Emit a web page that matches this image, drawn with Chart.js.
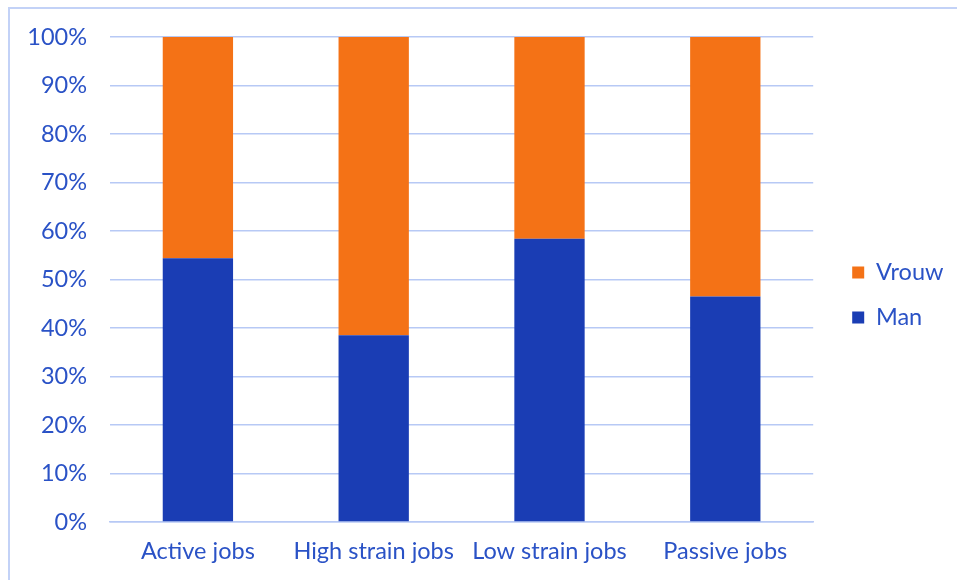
<!DOCTYPE html>
<html>
<head>
<meta charset="utf-8">
<script src="https://cdn.jsdelivr.net/npm/chart.js@4/dist/chart.umd.min.js"></script>
<style>
  html, body { margin: 0; padding: 0; background: #fff; overflow: hidden; }
  #frame {
    position: absolute; left: 8px; top: 7px; width: 1000px; height: 700px;
    border-left: 2px solid #c3d2f7; border-top: 2px solid #c3d2f7;
  }
  #wrap { position: absolute; left: 0; top: 0; width: 957px; height: 580px; }
</style>
</head>
<body>
<div id="frame"></div>
<div id="wrap"><canvas id="myChart"></canvas></div>
<script>
const labels = ['Active jobs', 'High strain jobs', 'Low strain jobs', 'Passive jobs']
const manValues = [54.4, 38.5, 58.4, 46.5]
const vrouwValues = [45.6, 61.5, 41.6, 53.5]

const textColor = '#2a52c6'
const gridColor = '#b7c9f5'
const font = { family: 'Lato', size: 23.5 }

Chart.defaults.font.family = 'Lato'

// empty axes used only as spacers around the plot
const spacer = (pos, size) => ({
  position: pos,
  display: true,
  grid: { display: false, drawTicks: false },
  border: { display: false },
  ticks: { display: false },
  afterFit: (scale) => {
    if (pos === 'top') scale.height = size
    else scale.width = size
  }
})

const ctx = document.getElementById('myChart')
new Chart(ctx, {
  type: 'bar',
  data: {
    labels: labels,
    datasets: [
      { label: 'Man', data: manValues, backgroundColor: '#1a3db4' },
      { label: 'Vrouw', data: vrouwValues, backgroundColor: '#f47216' }
    ]
  },
  options: {
    responsive: true,
    maintainAspectRatio: false,
    animation: false,
    categoryPercentage: 1,
    barPercentage: 0.4,
    layout: { padding: { top: 23, left: 0, right: 3.5, bottom: 13 } },
    plugins: {
      tooltip: { enabled: false },
      legend: {
        position: 'right',
        reverse: true,
        labels: {
          color: textColor,
          font: font,
          boxWidth: 12,
          boxHeight: 12,
          padding: 21.5
        }
      }
    },
    scales: {
      x: {
        stacked: true,
        grid: { display: false, drawTicks: false },
        border: { color: gridColor, width: 1.5 },
        ticks: { color: textColor, font: font, padding: 15 },
        afterFit: (scale) => { scale.height = 45 }
      },
      y: {
        stacked: true,
        min: 0,
        max: 100,
        ticks: {
          stepSize: 10,
          color: textColor,
          font: font,
          padding: 23,
          callback: (v) => v + '%'
        },
        grid: { color: gridColor, lineWidth: 1.5, drawTicks: false },
        border: { display: false },
        afterFit: (scale) => { scale.width = 110 }
      },
      gapTop: spacer('top', 14),
      gapRight: spacer('right', 17.5)
    }
  }
})
</script>
</body>
</html>
